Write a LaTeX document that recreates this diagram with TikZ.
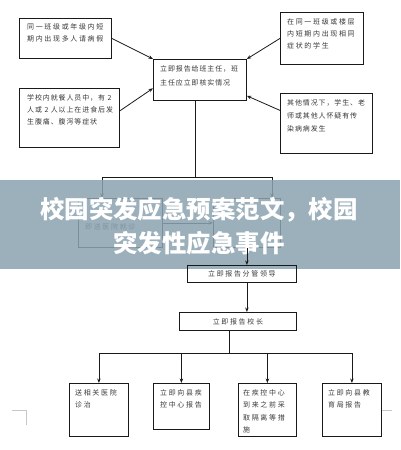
\documentclass[tikz,border=0pt]{standalone}
\usepackage{fontspec}
\setmainfont{Noto Sans CJK SC}
\newfontfamily\cjktext{Noto Sans CJK SC}[LetterSpace=24]
\newfontfamily\cjktight{Noto Sans CJK SC}[LetterSpace=13]
\usetikzlibrary{arrows.meta,positioning,calc}
\definecolor{boxline}{RGB}{25,25,25}
\definecolor{txtcol}{RGB}{55,55,55}
\definecolor{bannercol}{RGB}{140,163,176}
\definecolor{straycol}{RGB}{200,200,200}

\begin{document}
\begin{tikzpicture}[
    x=1bp, y=-1bp,
    >={Stealth[length=4.5bp,width=3.5bp]},
    infobox/.style={draw=boxline, line width=0.8bp, inner sep=0pt, anchor=north west},
    boxtext/.style={font=\cjktext\fontsize{7}{12.5}\selectfont, text=txtcol,
                    align=left, anchor=north west, inner sep=0pt},
    steptext/.style={font=\cjktext\fontsize{7}{12.5}\selectfont, text=txtcol, inner sep=0pt},
    arr/.style={->, line width=0.8bp, color=boxline},
    link/.style={line width=0.8bp, color=boxline},
]
\useasboundingbox (0,0) rectangle (400,450);

% ============ TRIGGERS ============
\node[infobox, minimum width=92bp, minimum height=40bp] (leave) at (19,18) {};
\node[boxtext] (leavetxt) at ([shift={(8,5)}]leave.north west)
  {同一班级或年级内短\\期内出现多人请病假};

\node[infobox, minimum width=100bp, minimum height=59bp] (dining) at (19,88) {};
\node[boxtext, font=\cjktight\fontsize{7}{12}\selectfont] (diningtxt) at ([shift={(8,6)}]dining.north west)
  {学校内就餐人员中，有 2\\人或 2 人以上在进食后发\\生腹痛、腹泻等症状};

\node[infobox, minimum width=83bp, minimum height=52bp] (symptom) at (280,12) {};
\node[boxtext] (symptomtxt) at ([shift={(7,6)}]symptom.north west)
  {在同一班级或楼层\\内短期内出现相同\\症状的学生};

\node[infobox, minimum width=92bp, minimum height=60bp] (suspect) at (280,93) {};
\node[boxtext, font=\cjktight\fontsize{7}{13}\selectfont] (suspecttxt) at ([shift={(7,6)}]suspect.north west)
  {其他情况下，学生、老\\师或其他人怀疑有传\\染病病发生};

% ============ HEAD TEACHER ============
\node[infobox, minimum width=93bp, minimum height=41bp] (headteacher) at (153,59) {};
\node[boxtext, font=\cjktight\fontsize{7}{14}\selectfont] (headtxt) at ([shift={(7,6)}]headteacher.north west)
  {立即报告给班主任，班\\主任应立即核实情况};

\draw[arr] (leave.east) -- (headteacher.north west);
\draw[arr] ([yshift=7bp]dining.east) -- ($(headteacher.south west)!0.3!(headteacher.north west)$);
\draw[arr] (symptom.west) -- (headteacher.north east);
\draw[arr] ([yshift=13bp]suspect.west) -- ([yshift=5bp]headteacher.south east);

% ============ SPLIT (partly under banner) ============
\coordinate (split) at (195,177);
\coordinate (splitL) at (102,177);
\coordinate (splitR) at (272,177);
\node[infobox, minimum width=84bp, minimum height=49bp] (sendhosp) at (78,198) {};
\node[boxtext] (sendtxt) at ([shift={(7,25)}]sendhosp.north west) {即送医院就诊};
\node[infobox, minimum width=67bp, minimum height=49bp] (nextstep) at (213,198) {};

\draw[link] (headteacher.south -| split) -- (split);
\draw[link] (splitL) -- (splitR);
\draw[arr] (splitL) -- (splitL |- sendhosp.north);
\draw[arr] (splitR) -- (splitR |- nextstep.north);
\draw[arr] (sendhosp.east) -- (nextstep.west);

% ============ BANNER ============
\fill[bannercol, fill opacity=0.86] (0,180) rectangle (400,269);
\node[font=\bfseries\fontsize{24.5}{34.5}\selectfont, text=white, align=center, inner sep=0pt]
  (title) at (199,226) {校园突发应急预案范文，校园\\突发性应急事件};

% ============ REPORTING CHAIN ============
\node[infobox, minimum width=109bp, minimum height=17bp] (leader) at (187,265) {};
\node[steptext] (leadertxt) at (leader.center) {立即报告分管领导};
\node[infobox, minimum width=117bp, minimum height=18bp] (principal) at (179,312) {};
\node[steptext] (principaltxt) at (principal.center) {立即报告校长};

\coordinate (chain) at ([xshift=5bp]leader.north);
\draw[arr] (nextstep.south -| chain) -- (chain);
\draw[arr] (leader.south -| chain) -- (principal.north -| chain);

% ============ ACTIONS ============
\node[infobox, minimum width=59bp, minimum height=53bp] (treat) at (69,383) {};
\node[boxtext] (treattxt) at ([shift={(6,6)}]treat.north west) {送相关医院\\诊治};
\node[infobox, minimum width=56bp, minimum height=46bp] (cdc) at (153,383) {};
\node[boxtext] (cdctxt) at ([shift={(7,6)}]cdc.north west) {立即向县疾\\控中心报告};
\node[infobox, minimum width=58bp, minimum height=53bp] (isolate) at (238,383) {};
\node[boxtext] (isolatetxt) at ([shift={(5,6)}]isolate.north west) {在疾控中心\\到来之前采\\取隔离等措\\施};
\node[infobox, minimum width=59bp, minimum height=53bp] (edu) at (322,383) {};
\node[boxtext] (edutxt) at ([shift={(6,6)}]edu.north west) {立即向县教\\育局报告};

\coordinate (branch) at (229,353);
\draw[link] (principal.south -| branch) -- (branch);
\draw[link] (branch -| treat.north) -- (branch -| edu.north);
\foreach \act in {treat,cdc,isolate,edu}
  \draw[arr] (branch -| \act.north) -- (\act.north);

% stray marks
\draw[straycol] (12,410) -- (26,410) -- (26,425);
\draw[straycol] (edu.east |- 0,410) -- (392,410);

\end{tikzpicture}
\end{document}
